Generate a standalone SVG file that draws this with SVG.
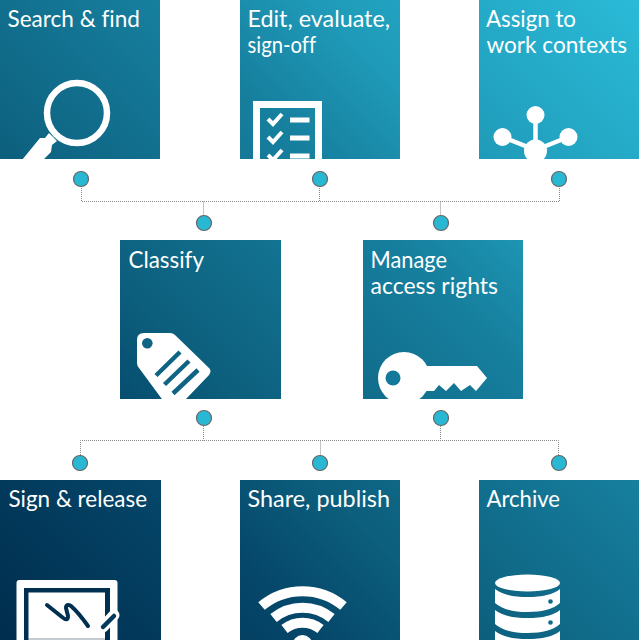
<svg xmlns="http://www.w3.org/2000/svg" width="640" height="640" viewBox="0 0 640 640">
<style>
.tile{fill:url(#g)}
.lbl{font-family:"Lato","Noto Sans",sans-serif;font-size:23.5px;fill:#fff;font-variant-ligatures:none}
.dot{fill:#29b8d4;stroke:#666;stroke-width:1.200}
.ln{fill:none;stroke:#888;stroke-width:1;stroke-dasharray:1 1}
.w{fill:#fff}
.ws{fill:none;stroke:#fff}
</style>
<defs>
<linearGradient id="g" gradientUnits="userSpaceOnUse" x1="640" y1="0" x2="0" y2="640">
<stop offset="0" stop-color="#2abbd8"/>
<stop offset="0.25" stop-color="#1f9bb9"/>
<stop offset="0.375" stop-color="#17809f"/>
<stop offset="0.625" stop-color="#0c5f7d"/>
<stop offset="0.75" stop-color="#05476a"/>
<stop offset="1" stop-color="#002d4d"/>
</linearGradient>
<clipPath id="c1"><rect x="0" y="0" width="160" height="159"/></clipPath>
<clipPath id="c2"><rect x="240" y="0" width="160" height="159"/></clipPath>
<clipPath id="c3"><rect x="479" y="0" width="160" height="159"/></clipPath>
<clipPath id="c4"><rect x="120" y="240" width="161" height="159"/></clipPath>
<clipPath id="c5"><rect x="363" y="240" width="160" height="159"/></clipPath>
<clipPath id="c6"><rect x="0" y="480" width="161" height="160"/></clipPath>
<clipPath id="c7"><rect x="240" y="480" width="160" height="160"/></clipPath>
<clipPath id="c8"><rect x="479" y="480" width="160" height="160"/></clipPath>
</defs>
<g id="connectors">
<path class="ln" d="M81.500 186V201.500H559.500V186M203.500 201.500V215M440.500 201.500V215M319.500 186V201.500"/>
<path class="ln" d="M203.500 426V440.500M440.500 426V440.500M80.500 455V440.500H558.500V455M320.500 440.500V455"/>
</g>
<g id="node-search">
<rect class="tile" x="0" y="0" width="160" height="159"/>
<text class="lbl" x="7.500" y="27" textLength="132.500" lengthAdjust="spacingAndGlyphs">Search &amp; find</text>
<g clip-path="url(#c1)">
<circle class="ws" cx="77" cy="113" r="30" stroke-width="6.500"/>
<path class="w" d="M49 133L57 141L52 145L51 152L43 160L22 160L40 138L45 138Z"/>
</g>
</g>
<g id="node-edit">
<rect class="tile" x="240" y="0" width="160" height="159"/>
<text class="lbl" x="247.500" y="27" textLength="142.500" lengthAdjust="spacingAndGlyphs">Edit, evaluate,</text>
<text class="lbl" x="247.500" y="53" textLength="68.500" lengthAdjust="spacingAndGlyphs">sign-off</text>
<g clip-path="url(#c2)">
<rect class="ws" x="256.500" y="104.500" width="62" height="70" stroke-width="7"/>
<path class="ws" stroke-width="4" d="M268 119L273 124L282 114M268 137L273 142L282 132M268 155L273 160L282 150"/>
<path class="w" d="M290 117.500H309.500V122.500H290ZM290 135.500H309.500V140.500H290ZM290 153.500H309.500V158.500H290Z"/>
</g>
</g>
<g id="node-assign">
<rect class="tile" x="479" y="0" width="160" height="159"/>
<text class="lbl" x="486" y="27" textLength="90" lengthAdjust="spacingAndGlyphs">Assign to</text>
<text class="lbl" x="486.500" y="53" textLength="140.500" lengthAdjust="spacingAndGlyphs">work contexts</text>
<g clip-path="url(#c3)">
<path class="ws" stroke-width="4.500" d="M535.500 115V152M502.500 137L535.500 150M568.500 137L535.500 150"/>
<circle class="w" cx="535.500" cy="115" r="9"/>
<circle class="w" cx="502.500" cy="137" r="9"/>
<circle class="w" cx="568.500" cy="137" r="9"/>
<circle class="w" cx="535.500" cy="151" r="11.500"/>
</g>
</g>
<g id="node-classify">
<rect class="tile" x="120" y="240" width="161" height="159"/>
<text class="lbl" x="128.500" y="268" textLength="75.500" lengthAdjust="spacingAndGlyphs">Classify</text>
<g clip-path="url(#c4)">
<path class="w" d="M144 333H170Q173 333 175 335L209 368Q212 371 209 375L186 399L170 410L139 368Q137 366 137 363V340Q137 333 144 333Z"/>
<circle cx="147.300" cy="343.300" r="5.300" fill="#0f6484"/>
<path fill="none" stroke="#0f6484" stroke-width="4.500" stroke-linecap="butt" d="M156 375.500L180 352M164.500 384.500L189 361M173 393.500L198 370"/>
</g>
</g>
<g id="node-manage">
<rect class="tile" x="363" y="240" width="160" height="159"/>
<text class="lbl" x="370.500" y="268" textLength="76.500" lengthAdjust="spacingAndGlyphs">Manage</text>
<text class="lbl" x="370.500" y="294" textLength="127.500" lengthAdjust="spacingAndGlyphs">access rights</text>
<g clip-path="url(#c5)">
<circle class="w" cx="404" cy="378" r="26"/>
<path class="w" d="M420 366H477L487 378L476 391L470 385L461 391L454 383L446 391L439 385L434 391H420Z"/>
<circle cx="393" cy="378" r="7.500" fill="#14789a"/>
</g>
</g>
<g id="node-sign">
<rect class="tile" x="0" y="480" width="161" height="160"/>
<text class="lbl" x="8.500" y="507" textLength="138.500" lengthAdjust="spacingAndGlyphs">Sign &amp; release</text>
<g clip-path="url(#c6)">
<rect class="w" x="16.500" y="580" width="101" height="70" rx="3"/>
<rect x="24" y="588" width="86" height="60" fill="#003050"/>
<rect class="w" x="28.500" y="592.500" width="76.500" height="46"/>
<rect x="28.500" y="638" width="76.500" height="2" fill="#c4ccd2"/>
<path fill="none" stroke="#003050" stroke-width="4" stroke-linecap="round" stroke-linejoin="round" d="M47 605L62 617Q68 622 68 616L66 608Q66 603 71 606Q78 612 88 626"/>
<path fill="none" stroke="#fff" stroke-width="11" stroke-linecap="round" d="M103 627L114 615"/>
<path fill="none" stroke="#003a5c" stroke-width="4.500" stroke-linecap="round" d="M103 627L114 616"/>
</g>
</g>
<g id="node-share">
<rect class="tile" x="240" y="480" width="160" height="160"/>
<text class="lbl" x="247.500" y="507" textLength="142.500" lengthAdjust="spacingAndGlyphs">Share, publish</text>
<g clip-path="url(#c7)">
<g fill="none" stroke="#fff" stroke-width="10">
<path d="M261.500 606A64 64 0 0 1 343.500 606"/>
<path d="M273.500 618A46 46 0 0 1 331.500 618"/>
<path d="M284.500 629A29 29 0 0 1 320.500 629"/>
</g>
<circle class="w" cx="302.500" cy="645" r="10"/>
</g>
</g>
<g id="node-archive">
<rect class="tile" x="479" y="480" width="160" height="160"/>
<text class="lbl" x="486.500" y="507" textLength="73.500" lengthAdjust="spacingAndGlyphs">Archive</text>
<g clip-path="url(#c8)">
<ellipse class="w" cx="527.500" cy="583" rx="32.500" ry="8.500"/>
<g fill="#fff">
<path d="M495 589Q505 597 527.500 597T560 589V603Q550 612 527.500 612T495 603Z"/>
<path d="M495 610Q505 618 527.500 618T560 610V624Q550 633 527.500 633T495 624Z"/>
<path d="M495 631Q505 639 527.500 639T560 631V650H495Z"/>
</g>
<circle cx="550.500" cy="601.500" r="2.300" fill="#10698a"/>
<circle cx="550.500" cy="622.500" r="2.300" fill="#10698a"/>
</g>
</g>
<g id="dots">
<circle class="dot" cx="81" cy="179" r="7.500"/>
<circle class="dot" cx="320" cy="179" r="7.500"/>
<circle class="dot" cx="559" cy="179" r="7.500"/>
<circle class="dot" cx="204" cy="223" r="7.500"/>
<circle class="dot" cx="441" cy="223" r="7.500"/>
<circle class="dot" cx="204" cy="418" r="7.500"/>
<circle class="dot" cx="441" cy="418" r="7.500"/>
<circle class="dot" cx="80" cy="463" r="7.500"/>
<circle class="dot" cx="320" cy="463" r="7.500"/>
<circle class="dot" cx="559" cy="463" r="7.500"/>
</g>
</svg>
